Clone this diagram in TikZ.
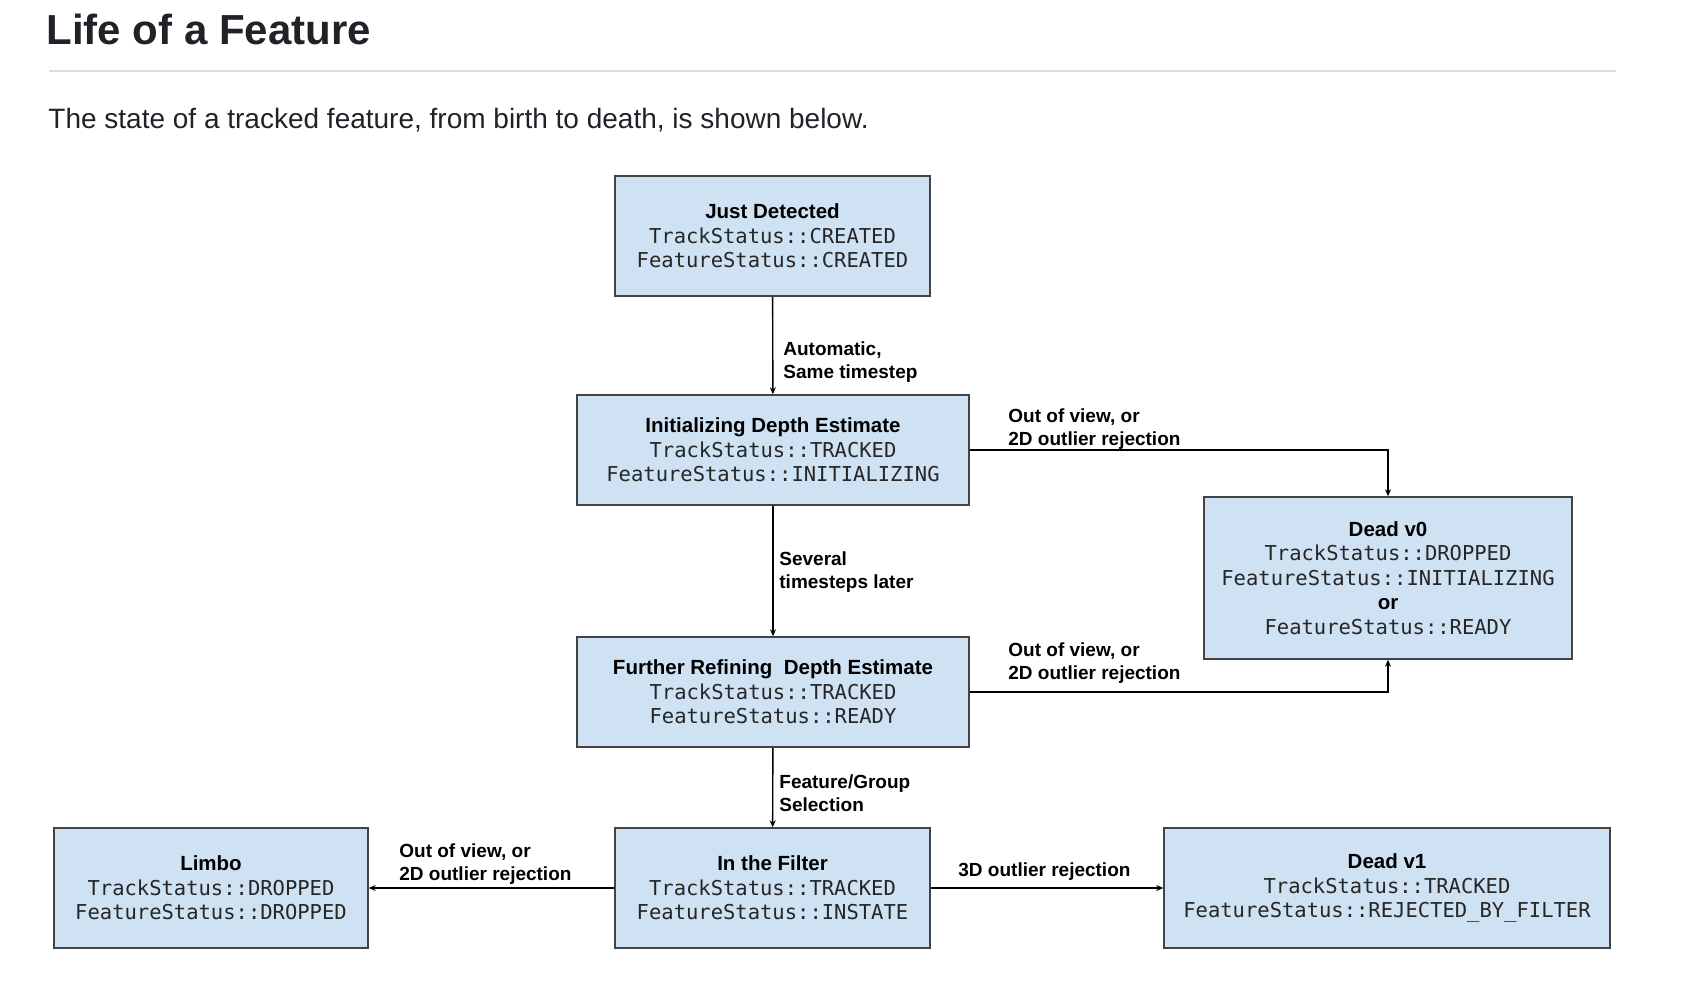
\documentclass[tikz,border=0pt]{standalone}
\usepackage{fontspec}
\setmainfont{Liberation Sans}
\newfontfamily\codefont{DejaVu Sans Mono}
\usetikzlibrary{arrows.meta, positioning}
\tikzset{>={Stealth[length=7pt,width=6pt]}}
\definecolor{boxfill}{HTML}{CFE2F3}
\definecolor{boxline}{HTML}{434343}
\definecolor{ghtext}{HTML}{1F2328}
\definecolor{ghrule}{HTML}{D8DEE4}
\definecolor{codetext}{HTML}{262626}
\newcommand{\stname}[1]{{\bfseries #1}}
\newcommand{\stcode}[1]{{\codefont\color{codetext}#1}}

\begin{document}
\begin{tikzpicture}[x=1pt, y=-1pt, thick,
    state/.style={draw=boxline, fill=boxfill, line width=1.5pt, align=center,
        inner sep=0pt, font=\fontsize{20.5}{24.5}\selectfont},
    edgelabel/.style={anchor=north west, align=left, inner sep=0pt,
        font=\fontsize{19}{23}\selectfont\bfseries},
    flow/.style={->, line width=1.4pt}]

            \useasboundingbox (0,0) rectangle (1683,982);

            % heading
            \node[anchor=base west, inner sep=0pt, text=ghtext,
                font=\fontsize{42}{50}\selectfont\bfseries] (title) at (46,45) {Life of a Feature};
            \draw[ghrule, line width=1.5pt] (49,71) -- (1616,71);
            \node[anchor=base west, inner sep=0pt, text=ghtext,
                font=\fontsize{28}{33}\selectfont] (intro) at (48,128)
                {The state of a tracked feature, from birth to death, is shown below.};

            % states
            \node[state, minimum width=315pt, minimum height=120pt] (jd) at (772.5,236)
                {\stname{Just Detected}\\ \stcode{TrackStatus::CREATED}\\ \stcode{FeatureStatus::CREATED}};
            \node[state, minimum width=392pt, minimum height=110pt] (init) at (773,450)
                {\stname{Initializing Depth Estimate}\\ \stcode{TrackStatus::TRACKED}\\ \stcode{FeatureStatus::INITIALIZING}};
            \node[state, minimum width=392pt, minimum height=110pt] (refine) at (773,692)
                {\stname{Further Refining \ Depth Estimate}\\ \stcode{TrackStatus::TRACKED}\\ \stcode{FeatureStatus::READY}};
            \node[state, minimum width=368pt, minimum height=162pt] (deadzero) at (1388,578)
                {\stname{Dead v0}\\ \stcode{TrackStatus::DROPPED}\\ \stcode{FeatureStatus::INITIALIZING}\\ \stname{or}\\ \stcode{FeatureStatus::READY}};
            \node[state, minimum width=314pt, minimum height=120pt] (limbo) at (211,888)
                {\stname{Limbo}\\ \stcode{TrackStatus::DROPPED}\\ \stcode{FeatureStatus::DROPPED}};
            \node[state, minimum width=315pt, minimum height=120pt] (filter) at (772.5,888)
                {\stname{In the Filter}\\ \stcode{TrackStatus::TRACKED}\\ \stcode{FeatureStatus::INSTATE}};
            \node[state, minimum width=446pt, minimum height=120pt] (deadone) at (1387,888)
                {\stname{Dead v1}\\ \stcode{TrackStatus::TRACKED}\\ \stcode{FeatureStatus::REJECTED\_BY\_FILTER}};

            % transitions
            \draw[flow] (jd) -- (init);
            \draw[flow] (init) -- (refine);
            \draw[flow] (refine) -- (filter);
            \draw[flow] (init.east) -| (deadzero.north);
            \draw[flow] (refine.east) -| (deadzero.south);
            \draw[flow] (filter) -- (limbo);
            \draw[flow] (filter) -- (deadone);

            % transition labels
            \node[edgelabel] (lbauto) at (783,341) {Automatic,\\ Same timestep};
            \node[edgelabel] (lbsev) at (779,551) {Several\\ timesteps later};
            \node[edgelabel] (lbsel) at (779,774) {Feature/Group\\ Selection};
            \node[edgelabel] (lbdropa) at (1008,408) {Out of view, or\\ 2D outlier rejection};
            \node[edgelabel] (lbdropb) at (1008,642) {Out of view, or\\ 2D outlier rejection};
            \node[edgelabel] (lblimbo) at (399,843) {Out of view, or\\ 2D outlier rejection};
            \node[edgelabel] (lbreject) at (958,862) {3D outlier rejection};

\end{tikzpicture}
\end{document}
